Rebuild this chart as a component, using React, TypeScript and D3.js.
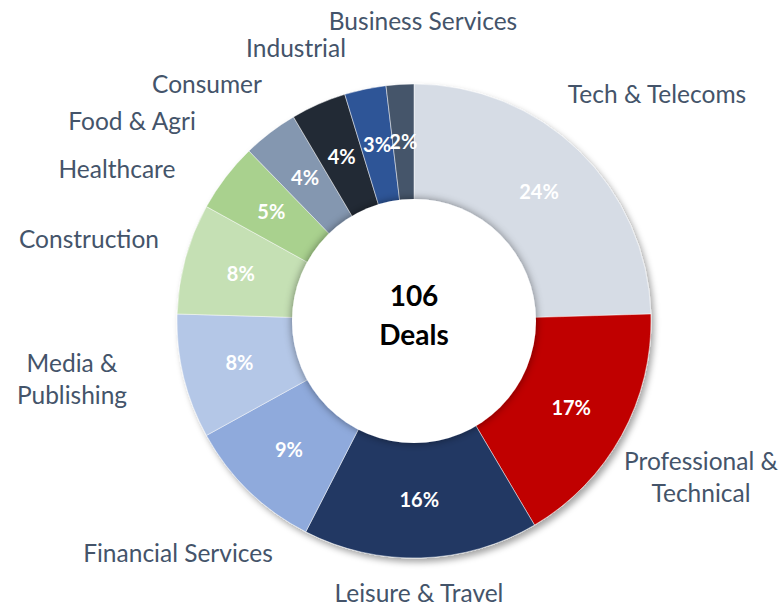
import React, { useEffect, useRef } from "react";
import * as d3 from "d3";

// deal counts per sector (106 in total), clockwise from 12 o'clock
const sectors = [
    "Tech & Telecoms",
    "Professional & Technical",
    "Leisure & Travel",
    "Financial Services",
    "Media & Publishing",
    "Construction",
    "Healthcare",
    "Food & Agri",
    "Consumer",
    "Industrial",
    "Business Services",
];
const dealCounts = [26, 18, 17, 10, 9, 8, 5, 4, 4, 3, 2];
const pctLabels = ["24%", "17%", "16%", "9%", "8%", "8%", "5%", "4%", "4%", "3%", "2%"];
const labelLines = [
    ["Tech & Telecoms"],
    ["Professional &", "Technical"],
    ["Leisure & Travel"],
    ["Financial Services"],
    ["Media &", "Publishing"],
    ["Construction"],
    ["Healthcare"],
    ["Food & Agri"],
    ["Consumer"],
    ["Industrial"],
    ["Business Services"],
];

const colors = [
    "#d6dce5", "#c00000", "#203864", "#8faadc", "#b4c7e7", "#c5e0b4",
    "#a9d18e", "#8497b0", "#222a35", "#2f5597", "#44546a",
];

// where each outside label sits, relative to the donut centre
const labelOffsets = [
    [243, -218], [287, 149], [5, 281], [-236, 241], [-342, 51], [-325, -73],
    [-297, -143], [-282, -191], [-207, -228], [-118, -264], [9, -291],
];

const W = 784;
const H = 608;
const cx = 414;
const cy = 321;
const outerR = 237;
const innerR = 122;
const font = "Lato, 'Open Sans', sans-serif";

export default function App() {
    const ref = useRef<SVGSVGElement>(null);

    useEffect(() => {
        document.body.style.margin = "0";
        const svg = d3.select(ref.current);
        svg.selectAll("*").remove();

        const defs = svg.append("defs");
        defs.append("filter")
            .attr("id", "ringShadow")
            .attr("x", "-20%").attr("y", "-20%").attr("width", "140%").attr("height", "140%")
            .append("feDropShadow")
            .attr("dx", 3).attr("dy", 4).attr("stdDeviation", 3)
            .attr("flood-color", "#000").attr("flood-opacity", 0.35);
        defs.append("filter")
            .attr("id", "holeShadow")
            .attr("x", "-20%").attr("y", "-20%").attr("width", "140%").attr("height", "140%")
            .append("feDropShadow")
            .attr("dx", 0).attr("dy", 0).attr("stdDeviation", 4)
            .attr("flood-color", "#000").attr("flood-opacity", 0.45);

        const data = sectors.map((name, i) => ({
            name,
            count: dealCounts[i],
            pct: pctLabels[i],
            color: colors[i],
            lines: labelLines[i],
            off: labelOffsets[i],
        }));

        const pie = d3.pie<any>().sort(null).value((d) => d.count);
        const arcs = pie(data);
        const arc = d3.arc<any>().innerRadius(innerR).outerRadius(outerR);
        const fullArc = d3.arc<any>().innerRadius(0).outerRadius(outerR);

        const g = svg.append("g").attr("transform", `translate(${cx},${cy})`);

        // ring with a soft shadow
        g.append("g")
            .attr("filter", "url(#ringShadow)")
            .selectAll("path")
            .data(arcs)
            .join("path")
            .attr("d", fullArc)
            .attr("fill", (d) => d.data.color)
            .attr("stroke", "#ffffff")
            .attr("stroke-opacity", 0.6)
            .attr("stroke-width", 0.8);

        // white centre disc casting a shadow on the ring
        g.append("circle")
            .attr("r", innerR)
            .attr("fill", "#ffffff")
            .attr("filter", "url(#holeShadow)");

        g.selectAll("text.pct")
            .data(arcs)
            .join("text")
            .attr("class", "pct")
            .attr("transform", (d) => `translate(${arc.centroid(d)})`)
            .attr("text-anchor", "middle")
            .attr("dy", "0.35em")
            .attr("fill", "#ffffff")
            .attr("font-family", font)
            .attr("font-weight", 700)
            .attr("font-size", 20)
            .text((d) => d.data.pct);

        const labels = g.selectAll("text.lab")
            .data(arcs)
            .join("text")
            .attr("class", "lab")
            .attr("x", (d) => d.data.off[0])
            .attr("y", (d) => d.data.off[1])
            .attr("text-anchor", "middle")
            .attr("fill", "#44546a")
            .attr("font-family", font)
            .attr("font-size", 24.5);
        labels.selectAll("tspan")
            .data((d) => d.data.lines.map((t: string) => ({ t, x: d.data.off[0] })))
            .join("tspan")
            .attr("x", (d) => d.x)
            .attr("dy", (d, i) => (i === 0 ? 0 : 32))
            .text((d) => d.t);

        const center = g.append("text")
            .attr("text-anchor", "middle")
            .attr("font-family", font)
            .attr("font-weight", 700)
            .attr("font-size", 28)
            .attr("fill", "#000000");
        center.append("tspan").attr("x", 0).attr("y", -15).text("106");
        center.append("tspan").attr("x", 0).attr("y", 24).text("Deals");
    }, []);

    return <svg ref={ref} width={W} height={H} style={{ display: "block", background: "#ffffff" }} />;
}
